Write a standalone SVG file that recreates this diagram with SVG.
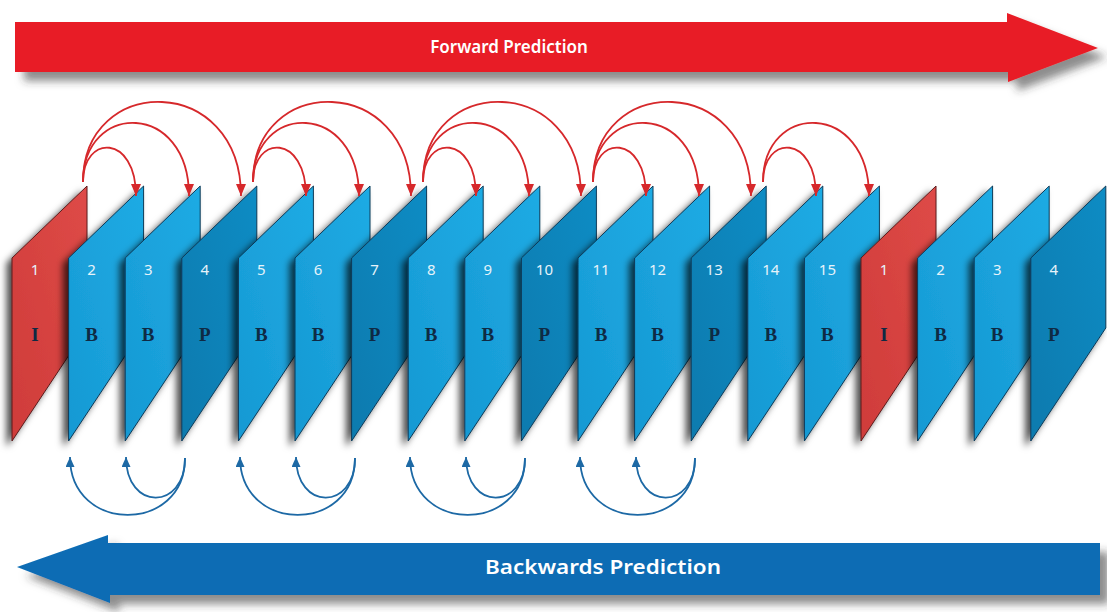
<svg xmlns="http://www.w3.org/2000/svg" xmlns:xlink="http://www.w3.org/1999/xlink" width="1107" height="612" viewBox="0 0 1107 612">
<defs>
<style>
.fI{fill:url(#gI);stroke:#5a1c1c;stroke-width:1}
.fB{fill:url(#gB);stroke:#0a3a58;stroke-width:1}
.fP{fill:url(#gP);stroke:#0a3a58;stroke-width:1}
.num{font-family:"Noto Sans","Open Sans",sans-serif;font-size:15px;fill:#e6f3fa;text-anchor:middle}
.typ{font-family:"Liberation Serif",serif;font-weight:bold;font-size:19px;fill:#0f2a44;text-anchor:middle}
.fwd{fill:none;stroke:#d6282b;stroke-width:1.8;marker-end:url(#ahR)}
.bwd{fill:none;stroke:#1d69a5;stroke-width:1.8;marker-end:url(#ahB)}
.lbl{font-family:"Noto Sans","Open Sans",sans-serif;fill:#ffffff;text-anchor:middle;font-weight:600}
</style>
<linearGradient id="gI" x1="1" y1="0" x2="0" y2="1"><stop offset="0" stop-color="#de4a47"/><stop offset="1" stop-color="#cf3c3a"/></linearGradient>
<linearGradient id="gB" x1="1" y1="0" x2="0" y2="1"><stop offset="0" stop-color="#1fabe4"/><stop offset="1" stop-color="#1699d3"/></linearGradient>
<linearGradient id="gP" x1="1" y1="0" x2="0" y2="1"><stop offset="0" stop-color="#0f8cc4"/><stop offset="1" stop-color="#0b7aae"/></linearGradient>
<filter id="fs" x="-40%" y="-10%" width="170%" height="130%"><feDropShadow dx="-5" dy="5" stdDeviation="3.5" flood-color="#000" flood-opacity="0.7"/></filter>
<filter id="as" x="-5%" y="-30%" width="115%" height="180%"><feDropShadow dx="9" dy="9" stdDeviation="4" flood-color="#333" flood-opacity="0.55"/></filter>
<marker id="ahR" markerUnits="userSpaceOnUse" markerWidth="12" markerHeight="10" refX="12" refY="5" orient="auto"><path d="M0,0 L12,5 L0,10 z" fill="#d6282b"/></marker>
<marker id="ahB" markerUnits="userSpaceOnUse" markerWidth="10" markerHeight="9" refX="10" refY="4.5" orient="auto"><path d="M0,0 L10,4.5 L0,9 z" fill="#1d69a5"/></marker>
</defs>
<rect width="1107" height="612" fill="#ffffff"/>

<g id="forward-arrow">
<polygon points="15,22 1007,22 1007,13 1098,48 1008,82 1008,72 15,72" fill="#e81d25" filter="url(#as)"/>
<text class="lbl" x="509" y="53" font-size="17">Forward Prediction</text>
</g>
<g id="backward-arrow">
<polygon points="1100,543 108,543 108,535 17,567 110,603 110,595 1100,595" fill="#0b6cb4" filter="url(#as)"/>
<text class="lbl" x="603" y="574" font-size="19" textLength="236" lengthAdjust="spacingAndGlyphs">Backwards Prediction</text>
</g>

<g id="frame-1"><polygon class="fI" points="12,258 87,186 87,328 12,441" filter="url(#fs)"/><text class="num" x="35" y="275">1</text><text class="typ" x="35" y="341">I</text></g>
<g id="frame-2"><polygon class="fB" points="68.6,258 143.6,186 143.6,328 68.6,441" filter="url(#fs)"/><text class="num" x="91.6" y="275">2</text><text class="typ" x="91.6" y="341">B</text></g>
<g id="frame-3"><polygon class="fB" points="125.2,258 200.2,186 200.2,328 125.2,441" filter="url(#fs)"/><text class="num" x="148.2" y="275">3</text><text class="typ" x="148.2" y="341">B</text></g>
<g id="frame-4"><polygon class="fP" points="181.8,258 256.8,186 256.8,328 181.8,441" filter="url(#fs)"/><text class="num" x="204.8" y="275">4</text><text class="typ" x="204.8" y="341">P</text></g>
<g id="frame-5"><polygon class="fB" points="238.4,258 313.4,186 313.4,328 238.4,441" filter="url(#fs)"/><text class="num" x="261.4" y="275">5</text><text class="typ" x="261.4" y="341">B</text></g>
<g id="frame-6"><polygon class="fB" points="295,258 370,186 370,328 295,441" filter="url(#fs)"/><text class="num" x="318" y="275">6</text><text class="typ" x="318" y="341">B</text></g>
<g id="frame-7"><polygon class="fP" points="351.6,258 426.6,186 426.6,328 351.6,441" filter="url(#fs)"/><text class="num" x="374.6" y="275">7</text><text class="typ" x="374.6" y="341">P</text></g>
<g id="frame-8"><polygon class="fB" points="408.2,258 483.2,186 483.2,328 408.2,441" filter="url(#fs)"/><text class="num" x="431.2" y="275">8</text><text class="typ" x="431.2" y="341">B</text></g>
<g id="frame-9"><polygon class="fB" points="464.8,258 539.8,186 539.8,328 464.8,441" filter="url(#fs)"/><text class="num" x="487.8" y="275">9</text><text class="typ" x="487.8" y="341">B</text></g>
<g id="frame-10"><polygon class="fP" points="521.4,258 596.4,186 596.4,328 521.4,441" filter="url(#fs)"/><text class="num" x="544.4" y="275">10</text><text class="typ" x="544.4" y="341">P</text></g>
<g id="frame-11"><polygon class="fB" points="578,258 653,186 653,328 578,441" filter="url(#fs)"/><text class="num" x="601" y="275">11</text><text class="typ" x="601" y="341">B</text></g>
<g id="frame-12"><polygon class="fB" points="634.6,258 709.6,186 709.6,328 634.6,441" filter="url(#fs)"/><text class="num" x="657.6" y="275">12</text><text class="typ" x="657.6" y="341">B</text></g>
<g id="frame-13"><polygon class="fP" points="691.2,258 766.2,186 766.2,328 691.2,441" filter="url(#fs)"/><text class="num" x="714.2" y="275">13</text><text class="typ" x="714.2" y="341">P</text></g>
<g id="frame-14"><polygon class="fB" points="747.8,258 822.8,186 822.8,328 747.8,441" filter="url(#fs)"/><text class="num" x="770.8" y="275">14</text><text class="typ" x="770.8" y="341">B</text></g>
<g id="frame-15"><polygon class="fB" points="804.4,258 879.4,186 879.4,328 804.4,441" filter="url(#fs)"/><text class="num" x="827.4" y="275">15</text><text class="typ" x="827.4" y="341">B</text></g>
<g id="frame-16"><polygon class="fI" points="861,258 936,186 936,328 861,441" filter="url(#fs)"/><text class="num" x="884" y="275">1</text><text class="typ" x="884" y="341">I</text></g>
<g id="frame-17"><polygon class="fB" points="917.6,258 992.6,186 992.6,328 917.6,441" filter="url(#fs)"/><text class="num" x="940.6" y="275">2</text><text class="typ" x="940.6" y="341">B</text></g>
<g id="frame-18"><polygon class="fB" points="974.2,258 1049.2,186 1049.2,328 974.2,441" filter="url(#fs)"/><text class="num" x="997.2" y="275">3</text><text class="typ" x="997.2" y="341">B</text></g>
<g id="frame-19"><polygon class="fP" points="1030.8,258 1105.8,186 1105.8,328 1030.8,441" filter="url(#fs)"/><text class="num" x="1053.8" y="275">4</text><text class="typ" x="1053.8" y="341">P</text></g>

<g id="connectors">
<path class="fwd" d="M83 182 C83 134 136 134 136 196"/>
<path class="fwd" d="M83 182 C83 101 189 101 189 196"/>
<path class="fwd" d="M83 182 C83 73 241 73 241 196"/>
<path class="fwd" d="M253 182 C253 134 306 134 306 196"/>
<path class="fwd" d="M253 182 C253 101 359 101 359 196"/>
<path class="fwd" d="M253 182 C253 73 411 73 411 196"/>
<path class="fwd" d="M423 182 C423 134 476 134 476 196"/>
<path class="fwd" d="M423 182 C423 101 529 101 529 196"/>
<path class="fwd" d="M423 182 C423 73 581 73 581 196"/>
<path class="fwd" d="M593 182 C593 134 646 134 646 196"/>
<path class="fwd" d="M593 182 C593 101 699 101 699 196"/>
<path class="fwd" d="M593 182 C593 73 751 73 751 196"/>
<path class="fwd" d="M763 182 C763 134 816 134 816 196"/>
<path class="fwd" d="M763 182 C763 101 869 101 869 196"/>
<path class="bwd" d="M185 458 C185 534 70 534 70 457"/>
<path class="bwd" d="M185 458 C185 511 126 511 126 457"/>
<path class="bwd" d="M355 458 C355 534 240 534 240 457"/>
<path class="bwd" d="M355 458 C355 511 296 511 296 457"/>
<path class="bwd" d="M525 458 C525 534 410 534 410 457"/>
<path class="bwd" d="M525 458 C525 511 466 511 466 457"/>
<path class="bwd" d="M695 458 C695 534 580 534 580 457"/>
<path class="bwd" d="M695 458 C695 511 636 511 636 457"/>
</g>
</svg>
